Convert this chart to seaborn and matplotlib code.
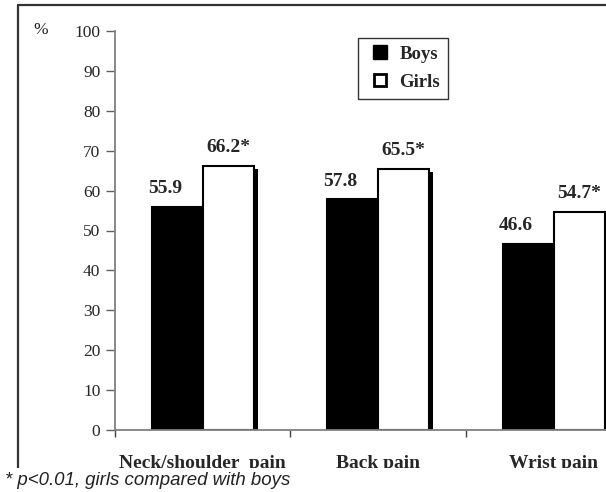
import numpy as np
import pandas as pd
import seaborn as sns
import matplotlib.pyplot as plt
import matplotlib.patheffects as pe
from matplotlib.patches import Rectangle
from matplotlib.lines import Line2D

# chart values
pains = ['Neck/shoulder  pain', 'Back pain', 'Wrist pain']
boys = [55.9, 57.8, 46.6]
girls = [66.2, 65.5, 54.7]
sexes = ['Boys', 'Girls']
stars = ['*', '*', '*']

df = pd.DataFrame({
    'pain': pains * 2,
    'sex': ['Boys'] * 3 + ['Girls'] * 3,
    'value': boys + girls,
})

sns.set_style('white')
plt.rcParams['font.family'] = ['Liberation Serif', 'DejaVu Serif']

W, H = 606, 492
fig = plt.figure(figsize=(W / 100, H / 100), dpi=100)
ax = fig.add_axes([115 / W, 1 - 430 / H, 526.5 / W, 399 / H])

sns.barplot(data=df, x='pain', y='value', hue='sex', hue_order=sexes,
            palette=['black', 'white'], width=0.58, edgecolor='black',
            linewidth=1.5, saturation=1, legend=False, ax=ax)

ax.set_xlim(-0.5, 2.5)
ax.set_ylim(0, 100)
ax.set_xlabel('')
ax.set_ylabel('')

# drop shadow on the girls bars
girl_bars = ax.containers[1]
for p in girl_bars:
    p.set_path_effects([pe.SimplePatchShadow(offset=(3, -2.5), shadow_rgbFace='black', alpha=1),
                        pe.Normal()])

# value labels
for i, p in enumerate(ax.containers[0]):
    cx = p.get_x() + p.get_width() / 2
    ax.annotate(f'{boys[i]:.1f}', (cx, p.get_height()), xytext=(-9, 7),
                textcoords='offset points', ha='center', va='bottom',
                fontsize=14, fontweight='bold')
for i, p in enumerate(girl_bars):
    cx = p.get_x() + p.get_width() / 2
    ax.annotate(f'{girls[i]:.1f}{stars[i]}', (cx, p.get_height()), xytext=(0, 7),
                textcoords='offset points', ha='center', va='bottom',
                fontsize=14, fontweight='bold')

# axes styling
for s in ['top', 'right']:
    ax.spines[s].set_visible(False)
for s in ['left', 'bottom']:
    ax.spines[s].set_color('#808080')
    ax.spines[s].set_linewidth(1.3)

ax.set_yticks(np.arange(0, 101, 10))
ax.tick_params(axis='y', length=6.5, width=1, color='#606060', pad=4,
               labelsize=12.5, left=True, direction='out')
ax.set_xticks([0, 1, 2])
ax.set_xticklabels(pains, fontsize=14, fontweight='bold')
ax.set_xticks([-0.5, 0.5, 1.5, 2.5], minor=True)
ax.tick_params(axis='x', which='major', length=0, pad=18)
ax.tick_params(axis='x', which='minor', length=5, width=1, color='#404040',
               bottom=True, direction='out')

fig.text(33 / W, 1 - 30 / H, '%', fontsize=12.5, va='center', ha='left')

# legend
handles = [Line2D([], [], linestyle='none', marker='s', markersize=9.5,
                  markerfacecolor='black', markeredgecolor='black'),
           Line2D([], [], linestyle='none', marker='s', markersize=8,
                  markerfacecolor='white', markeredgecolor='black', markeredgewidth=2)]
leg = fig.legend(handles, sexes, loc='upper left',
                 bbox_to_anchor=(358 / W, 1 - 38 / H), borderaxespad=0,
                 prop={'family': 'Liberation Serif', 'weight': 'bold', 'size': 13.5},
                 frameon=True, fancybox=False, edgecolor='black',
                 handlelength=1.5, handletextpad=0.3,
                 borderpad=0.4, labelspacing=0.6)
leg.get_frame().set_linewidth(1)

# outer frame (top and left edges visible)
fig.add_artist(Line2D([18 / W, 18 / W], [1 - 468 / H, 1 - 5 / H], color='#333333', lw=1.6))
fig.add_artist(Line2D([18 / W, 1], [1 - 5 / H, 1 - 5 / H], color='#333333', lw=1.6))

# footnote strip covering the bottom of the labels
fig.add_artist(Rectangle((0, 0), 1, 24 / H, transform=fig.transFigure,
                         facecolor='white', edgecolor='none', zorder=5))
fig.text(5 / W, 7 / H, '* p<0.01, girls compared with boys',
         family=['Liberation Sans', 'DejaVu Sans'], style='italic',
         fontsize=13.4, color='#222222', va='baseline', ha='left', zorder=6)

fig.savefig('out.png', dpi=100)
